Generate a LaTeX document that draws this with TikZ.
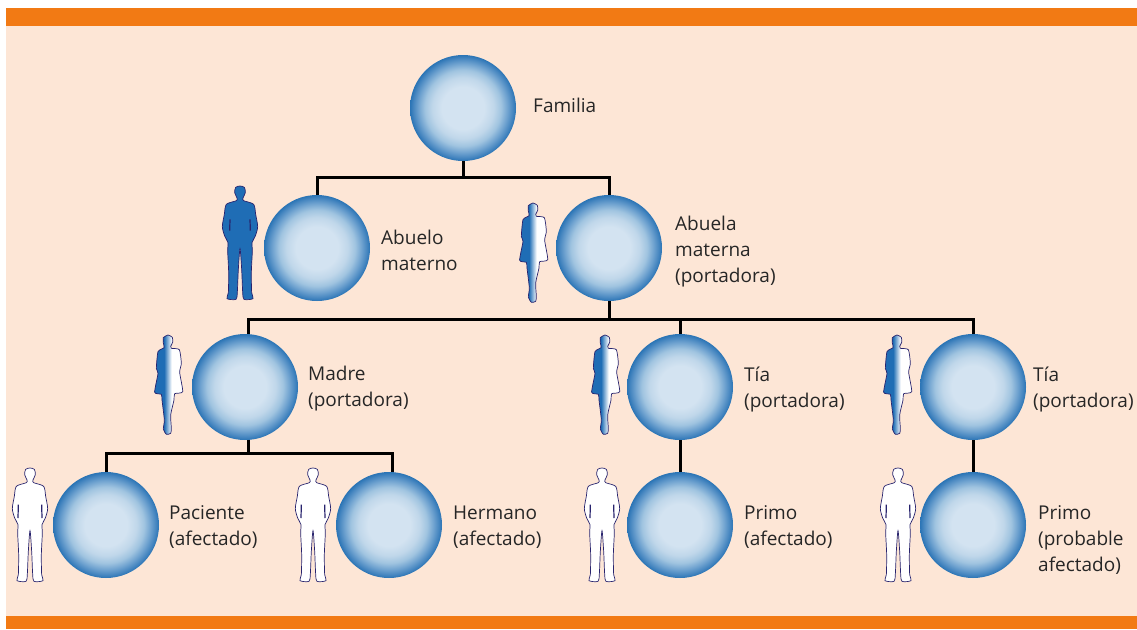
\documentclass[tikz,border=0pt]{standalone}
\usepackage{fontspec}
\setmainfont{Open Sans}
\usepackage{xcolor}
\usetikzlibrary{positioning}
\definecolor{barorange}{RGB}{242, 122, 20}
\definecolor{peach}{RGB}{253, 230, 214}
\definecolor{figblue}{RGB}{31, 109, 181}
\definecolor{figline}{RGB}{40, 36, 110}
\definecolor{ballcore}{RGB}{211, 227, 241}
\definecolor{ballsoft}{RGB}{192, 215, 234}
\definecolor{ballmid}{RGB}{160, 196, 224}
\definecolor{balldeep}{RGB}{112, 163, 208}
\definecolor{ballblue}{RGB}{70, 134, 192}
\definecolor{ballrim}{RGB}{42, 116, 181}
\pgfdeclareradialshading{ballshade}{\pgfpoint{0bp}{0bp}}{%
  color(0bp)=(ballcore); color(10bp)=(ballcore); color(14.5bp)=(ballsoft);
  color(18bp)=(ballmid); color(21bp)=(balldeep); color(23.5bp)=(ballblue);
  color(25bp)=(ballrim); color(50bp)=(ballrim)}
\pgfdeclarehorizontalshading{halfshade}{100bp}{%
  color(0bp)=(figblue); color(42bp)=(figblue); color(55bp)=(white); color(100bp)=(white)}
\newcommand{\manoutline}{plot[smooth cycle, tension=0.45] coordinates {
  (0,0) (13,4) (16,20) (9,36) (11,44) (41,55) (47,85) (53,122) (46,150) (36,170)
  (37,195) (34,260) (35,320) (39,338) (12,340) (8,318) (5,250) (0,188)
  (-5,250) (-8,318) (-12,340) (-39,338) (-35,320) (-34,260) (-37,195) (-36,170)
  (-46,150) (-53,122) (-47,85) (-41,55) (-11,44) (-9,36) (-16,20) (-13,4)}}
\newcommand{\womanoutline}{plot[smooth cycle, tension=0.35] coordinates {
  (0,0) (13,7) (14,22) (8,34) (10,40) (34,44) (40,85) (35,112) (44,170) (20,176)
  (18,195) (8,240) (10,280) (8,295) (-5,298) (-14,282) (-11,255) (-18,195) (-20,178)
  (-40,172) (-30,115) (-35,100) (-30,50) (-12,38) (-14,24) (-14,8)}}
\tikzset{
  ball/.style={circle, minimum size=106pt, inner sep=0pt, shading=ballshade},
  lbl/.style={anchor=west, align=left, inner sep=0pt, text=black!85,
    font=\fontsize{19}{26}\selectfont},
  link/.style={draw=black, line width=3pt},
  pics/bluefig/.style={code={
    \draw[scale=1/3, fill=figblue, draw=figline, line width=0.7pt] \manoutline;
    \draw[scale=1/3, figline, line width=1.2pt] (-30,100) -- (-31,134) (30,100) -- (31,134);
  }},
  pics/whitefig/.style={code={
    \draw[scale=1/3, fill=white, draw=figline, line width=0.7pt] \manoutline;
    \draw[scale=1/3, figline, line width=1.2pt] (-35,110) -- (-36,150) (35,110) -- (36,150);
  }},
  pics/halffig/.style={code={
    \draw[scale=1/3, shading=halfshade, draw=figline, line width=0.7pt] \womanoutline;
  }}
}

\begin{document}
\begin{tikzpicture}[x=1pt, y=-1pt]
\useasboundingbox (0,0) rectangle (1137,629);

% Panel and bars
\fill[peach] (6,8) rectangle (1137,629);
\fill[barorange] (6,8) rectangle (1137,26);
\fill[barorange] (6,616) rectangle (1137,629);

% Circles
\node[ball] (familia) at (463,108) {};
\node[ball] (abuelo) at (317,248) {};
\node[ball] (abuela) at (609,248) {};
\node[ball] (madre) at (245,387) {};
\node[ball] (tiaA) at (680,387) {};
\node[ball] (tiaB) at (973,387) {};
\node[ball] (paciente) at (106,525) {};
\node[ball] (hermano) at (389,525) {};
\node[ball] (primoA) at (680,525) {};
\node[ball] (primoB) at (973,525) {};

% Joints
\coordinate (jointA) at (463,177);
\coordinate (jointB) at (609,319);
\coordinate (jointC) at (248,453);

% Lines
\draw[link] (familia.south) -- (jointA);
\draw[link] (abuelo.north) |- (jointA) -| (abuela.north);
\draw[link] (abuela.south) -- (jointB);
\draw[link] ([xshift=3pt]madre.north) |- (jointB) -| (tiaB.north);
\draw[link] (tiaA.north) -- (tiaA.north |- jointB);
\draw[link] ([xshift=3pt]madre.south) -- (jointC);
\draw[link] (paciente.north) |- (jointC) -| ([xshift=3pt]hermano.north);
\draw[link] (tiaA.south) -- (primoA.north);
\draw[link] (tiaB.south) -- (primoB.north);

% Figures
\pic at (240,186) {bluefig};
\pic at (533,203) {halffig};
\pic at (168,335) {halffig};
\pic at (605,335) {halffig};
\pic at (897,335) {halffig};
\pic at (30,468) {whitefig};
\pic at (313,468) {whitefig};
\pic at (602,468) {whitefig};
\pic at (898,468) {whitefig};

% Labels
\node[lbl] (tFamilia) at (533,105) {Familia};
\node[lbl] (tAbuelo) at (381,250) {Abuelo\\materno};
\node[lbl] (tAbuela) at (675,252) {Abuela\\materna\\(portadora)};
\node[lbl] (tMadre) at (308,389) {Madre\\(portadora)};
\node[lbl] (tTiaA) at (744,389) {Tía\\(portadora)};
\node[lbl] (tTiaB) at (1033,389) {Tía\\(portadora)};
\node[lbl] (tPaciente) at (169,527) {Paciente\\(afectado)};
\node[lbl] (tHermano) at (453,527) {Hermano\\(afectado)};
\node[lbl] (tPrimoA) at (744,527) {Primo\\(afectado)};
\node[lbl] (tPrimoB) at (1038,540) {Primo\\(probable\\afectado)};

\end{tikzpicture}
\end{document}
